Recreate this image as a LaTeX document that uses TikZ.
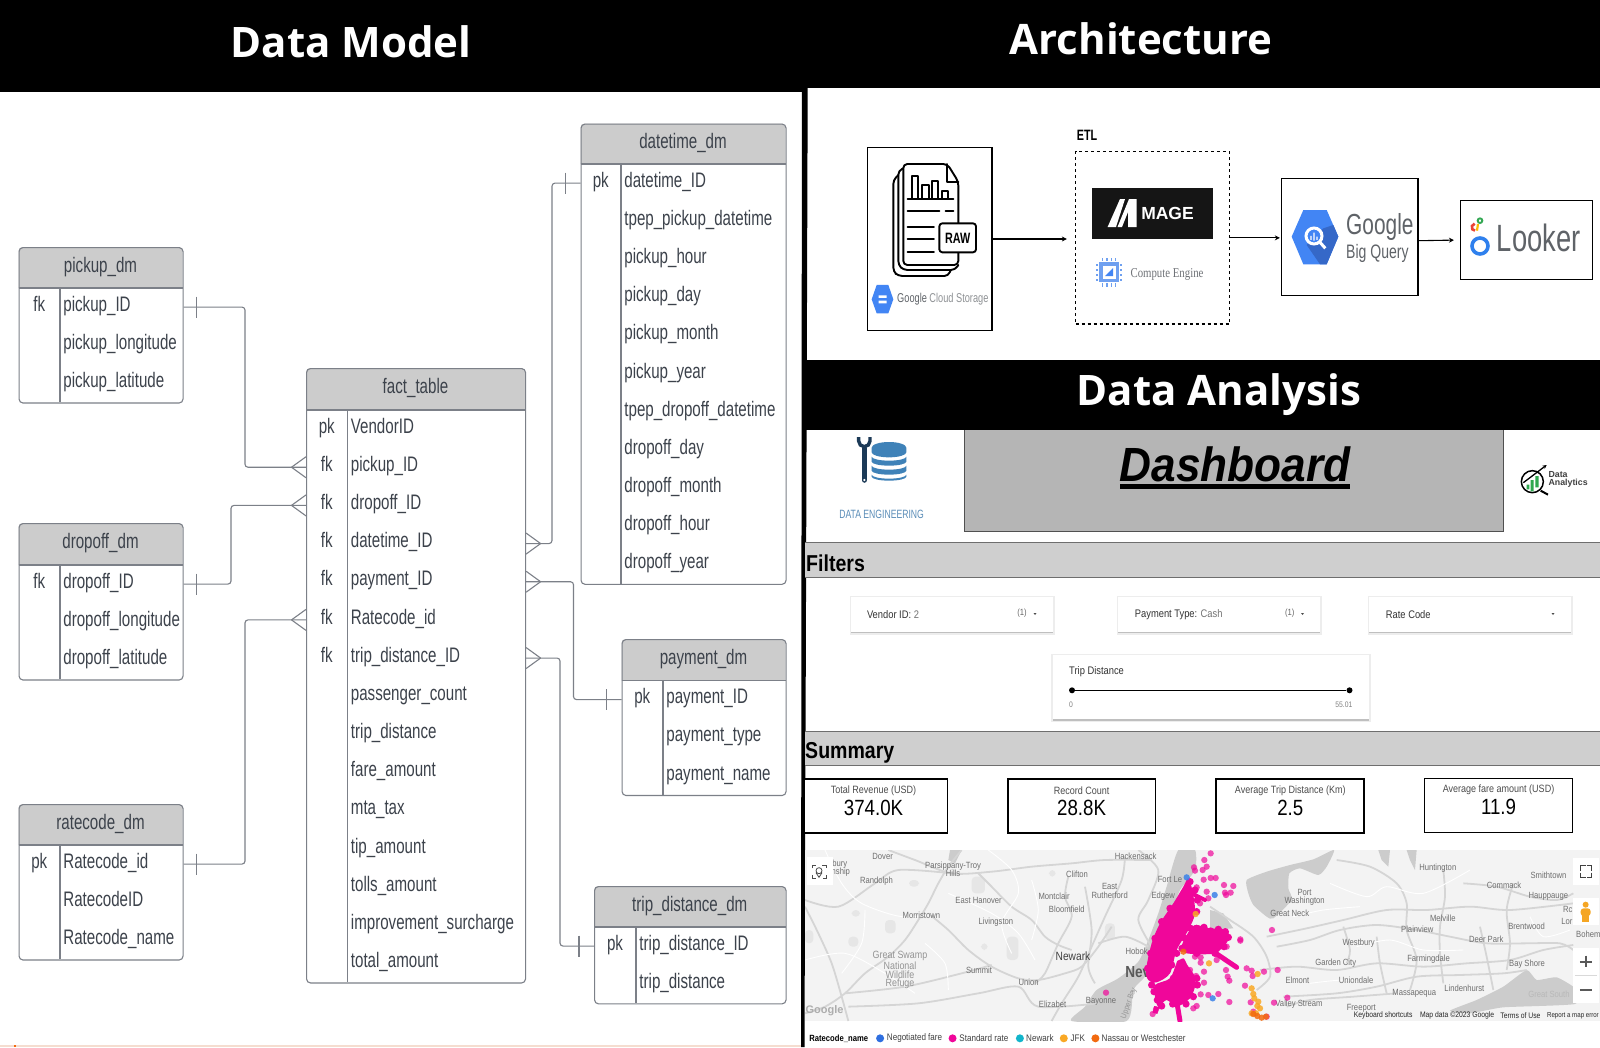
\documentclass[tikz,border=0pt]{standalone}
\usepackage{fontspec}
\usetikzlibrary{arrows.meta,calc}
\setmainfont{Liberation Sans}
\newfontfamily\nr[FakeStretch=0.72]{Liberation Sans}
\newfontfamily\nm[FakeStretch=0.85]{Liberation Sans}
\newfontfamily\dbf[FakeStretch=0.92]{Liberation Sans}
\newfontfamily\ttlf{Open Sans}
\newfontfamily\srf[FakeStretch=0.8]{Liberation Serif}
\definecolor{erline}{HTML}{7C8088}
\definecolor{ertext}{HTML}{3C424B}
\definecolor{erhead}{HTML}{CCCCCC}
\definecolor{gblue}{HTML}{4285F4}
\definecolor{gdark}{HTML}{3568C8}
\definecolor{ggray}{HTML}{5F6368}
\definecolor{band}{HTML}{CFCFCF}
\definecolor{bandline}{HTML}{6E6E6E}
\definecolor{mapbg}{HTML}{F3F3F3}
\definecolor{mappark}{HTML}{E6E6E6}
\definecolor{mapwater}{HTML}{CCCCCC}
\definecolor{maproad}{HTML}{D5D5D5}
\definecolor{maptext}{HTML}{6E6E6E}
\definecolor{mag}{HTML}{F0069A}
\definecolor{dotorange}{HTML}{F9A825}
\definecolor{dotdeep}{HTML}{F26A10}
\definecolor{dotblue}{HTML}{3B82E8}
\definecolor{strip}{HTML}{F5DDD0}
\definecolor{mageblack}{HTML}{151515}
\definecolor{chipblue}{HTML}{6FA0F0}
\definecolor{lookblue}{HTML}{2F80ED}
\definecolor{lookgreen}{HTML}{34A853}
\definecolor{lookred}{HTML}{EA4335}
\definecolor{lookyellow}{HTML}{FBBC04}
\definecolor{dashgray}{HTML}{B5B5B5}
\definecolor{dashline}{HTML}{505050}
\definecolor{dbblue}{HTML}{3F82B8}
\definecolor{wrench}{HTML}{1C3A57}
\definecolor{barsgreen}{HTML}{2FA84F}
\definecolor{pegman}{HTML}{F5A623}
\definecolor{legblue}{HTML}{2F6FE0}
\definecolor{legteal}{HTML}{12B5CB}
\definecolor{detext}{HTML}{5B8DB8}
\newcounter{mlc}
\newcommand{\maplab}[3]{\stepcounter{mlc}\node[maplabel] (ml\arabic{mlc}) at (#1,#2) {#3};}
% name, title, x1, x2, xdiv, ytop, yhead, rows, rowcount
\newcommand{\ertab}[9]{%
  \pgfmathsetmacro{\tw}{#4-#3}%
  \pgfmathsetmacro{\th}{#7-#6+38.16*#9}%
  \pgfmathsetmacro{\tb}{#6+\th}%
  \fill[erhead] (#3,#7) [rounded corners=4pt] -- (#3,#6) -- (#4,#6) [sharp corners] -- (#4,#7) -- cycle;
  \node[tabbox,minimum width=\tw pt,minimum height=\th pt,anchor=north west] (#1) at (#3,#6) {};
  \draw[erl] (#3,#7) -- (#4,#7);
  \draw[erl] (#5,#7) -- (#5,\tb);
  \pgfmathsetmacro{\tc}{(#3+#4)/2}%
  \pgfmathsetmacro{\hc}{(#6+#7)/2-0.6}%
  \node[ertxt] (#1-title) at (\tc,\hc) {#2};
  \pgfmathsetmacro{\kc}{(#3+#5)/2}%
  \pgfmathsetmacro{\rx}{#5+3.2}%
  \foreach \rowkey/\rowtxt [count=\i] in {#8} {%
    \pgfmathsetmacro{\ry}{#7+(\i-0.5)*38.16}%
    \pgfmathsetmacro{\ty}{\ry-2.8}%
    \coordinate (#1-\i) at (#5,\ry);
    \node[ertxt,anchor=base] (#1-k\i) at ($(\kc,\ty)+(0,7)$) {\rowkey};
    \node[ertxt,anchor=base west] (#1-t\i) at ($(\rx,\ty)+(0,7)$) {\rowtxt};
  }%
}
\newcommand{\crowleft}[1]{\draw[erl] ($(#1)+(-14.5,0)$) -- ($(#1)+(0,-10.5)$) ($(#1)+(-14.5,0)$) -- ($(#1)+(0,10.5)$);}
\newcommand{\crowright}[1]{\draw[erl] ($(#1)+(14.5,0)$) -- ($(#1)+(0,-10.5)$) ($(#1)+(14.5,0)$) -- ($(#1)+(0,10.5)$);}
\newcommand{\ticklr}[1]{\draw[erl] ($(#1)+(0,-10.5)$) -- ($(#1)+(0,10.5)$);}
\tikzset{
  erl/.style={draw=erline,line width=1.1pt},
  tabbox/.style={draw=erline,line width=1.1pt,rounded corners=4pt,inner sep=0pt},
  ertxt/.style={text=ertext,font=\nr\fontsize{21}{21}\selectfont,inner sep=0pt},
  conn/.style={draw=erline,line width=1.1pt,rounded corners=3pt},
  archbox/.style={draw=black,line width=1.5pt,inner sep=0pt},
  flow/.style={draw=black,line width=1.1pt,-{Stealth[length=5pt,width=5pt]}},
  title/.style={text=white,font=\ttlf\bfseries\fontsize{42}{42}\selectfont,inner sep=0pt},
  cardtxt/.style={font=\nm\fontsize{11}{11}\selectfont,text=black!80,inner sep=0pt},
  kpibox/.style={draw=black,line width=1.4pt,fill=white,inner sep=0pt},
  kpilab/.style={font=\nm\fontsize{10.6}{10.6}\selectfont,text=black!70,inner sep=0pt},
  kpival/.style={font=\nm\fontsize{22}{22}\selectfont,text=black,inner sep=0pt},
  maplabel/.style={font=\nm\fontsize{9}{9}\selectfont,text=maptext,inner sep=0pt},
  legtxt/.style={font=\nm\fontsize{9.5}{9.5}\selectfont,text=black!75,inner sep=0pt,anchor=west},
  lbl/.style={inner sep=0pt},
}
\begin{document}
\begin{tikzpicture}[x=1pt,y=-1pt]
\useasboundingbox (0,0) rectangle (1600,1047);
\fill[white] (0,0) rectangle (1600,1047);
\fill[black] (0,0) rectangle (803,92);
\fill[black] (803,0) rectangle (1600,88);
\fill[black] (802,0) -- (808,0) -- (804.5,1047) -- (801,1047) -- cycle;
\fill[black] (805,360) rectangle (1600,430);
\fill[strip] (0,1045) rectangle (801,1047);
\fill[dotdeep] (14,1045) rectangle (16,1047);
\node[title] (t1) at (351,42) {Data Model};
\node[title] (t2) at (1141,39) {Architecture};
\node[title] (t3) at (1219,395) {Data Analysis};

% ---------- ER tables
\ertab{pickup}{pickup\_dm}{18.5}{182.5}{60}{247}{288}{fk/pickup\_ID,{}/pickup\_longitude,{}/pickup\_latitude}{3}
\ertab{dropoff}{dropoff\_dm}{18.5}{182.5}{60}{523}{565}{fk/dropoff\_ID,{}/dropoff\_longitude,{}/dropoff\_latitude}{3}
\ertab{ratecode}{ratecode\_dm}{18.5}{182.5}{60}{804}{845}{pk/Ratecode\_id,{}/RatecodeID,{}/Ratecode\_name}{3}
\ertab{fact}{fact\_table}{306}{525}{347.5}{368}{410}{pk/VendorID,fk/pickup\_ID,fk/dropoff\_ID,fk/datetime\_ID,fk/payment\_ID,fk/Ratecode\_id,fk/trip\_distance\_ID,{}/passenger\_count,{}/trip\_distance,{}/fare\_amount,{}/mta\_tax,{}/tip\_amount,{}/tolls\_amount,{}/improvement\_surcharge,{}/total\_amount}{15}
\ertab{datetime}{datetime\_dm}{580.5}{785.5}{621}{123.5}{164}{pk/datetime\_ID,{}/tpep\_pickup\_datetime,{}/pickup\_hour,{}/pickup\_day,{}/pickup\_month,{}/pickup\_year,{}/tpep\_dropoff\_datetime,{}/dropoff\_day,{}/dropoff\_month,{}/dropoff\_hour,{}/dropoff\_year}{11}
\ertab{payment}{payment\_dm}{621.5}{785.5}{663}{639}{680.5}{pk/payment\_ID,{}/payment\_type,{}/payment\_name}{3}
\ertab{tripd}{trip\_distance\_dm}{594}{785.5}{636}{886}{927}{pk/trip\_distance\_ID,{}/trip\_distance}{2}

% ---------- ER connectors
\coordinate (j1) at (245,0); \coordinate (j2) at (231,0); \coordinate (j3) at (245,0);
\coordinate (j4) at (552,0); \coordinate (j5) at (573.5,0); \coordinate (j6) at (560,0);
\draw[conn] (pickup.east |- pickup-1) -- (j1 |- pickup-1) -- (j1 |- fact-2) -- (fact.west |- fact-2);
\draw[conn] (dropoff.east |- dropoff-1) -- (j2 |- dropoff-1) -- (j2 |- fact-3) -- (fact.west |- fact-3);
\draw[conn] (ratecode.east |- ratecode-1) -- (j3 |- ratecode-1) -- (j3 |- fact-6) -- (fact.west |- fact-6);
\draw[conn] (fact.east |- fact-4) -- (j4 |- fact-4) -- (j4 |- datetime-1) -- (datetime.west |- datetime-1);
\draw[conn] (fact.east |- fact-5) -- (j5 |- fact-5) -- (j5 |- payment-1) -- (payment.west |- payment-1);
\draw[conn] (fact.east |- fact-7) -- (j6 |- fact-7) -- (j6 |- tripd-1) -- (tripd.west |- tripd-1);
\crowleft{fact.west |- fact-2}\crowleft{fact.west |- fact-3}\crowleft{fact.west |- fact-6}
\crowright{fact.east |- fact-4}\crowright{fact.east |- fact-5}\crowright{fact.east |- fact-7}
\ticklr{$(pickup.east |- pickup-1)+(13,0)$}
\ticklr{$(dropoff.east |- dropoff-1)+(13,0)$}
\ticklr{$(ratecode.east |- ratecode-1)+(13,0)$}
\ticklr{$(datetime.west |- datetime-1)+(-15,0)$}
\ticklr{$(payment.west |- payment-1)+(-15,0)$}
\ticklr{$(tripd.west |- tripd-1)+(-15,0)$}

% ---------- Architecture
\node[archbox,minimum width=124.5pt,minimum height=182.6pt] (gcs) at (929.5,239) {};
\node[draw=black,line width=1.3pt,dashed,inner sep=0pt,minimum width=154pt,minimum height=172.3pt] (etl) at (1152.5,237.9) {};
\node[archbox,minimum width=136.3pt,minimum height=117pt] (bq) at (1349.7,237.2) {};
\node[archbox,minimum width=131.6pt,minimum height=78.6pt] (looker) at (1526.5,240) {};
\node[lbl,font=\nr\bfseries\fontsize{15}{15}\selectfont] (etllab) at (1087,135) {ETL};
\draw[flow,shorten >=8pt] (gcs.east) -- (etl.west |- gcs.east);
\draw[flow,shorten >=1pt] (etl.east) -- (bq.west |- etl.east);
\draw[flow,shorten >=6pt] ($(bq.east)+(0,3.5)$) -- (looker.west);

% document icon
\begin{scope}[shift={(860,150)},x=0.3333pt,y=-0.3333pt,line width=1.9pt,line join=round,line cap=round]
\draw[rounded corners=4pt] (130,55) -- (115,62) -- (115,345) -- (130,360) -- (285,360) -- (295,345);
\draw[rounded corners=4pt] (115,75) -- (100,90) -- (100,365) -- (115,378) -- (265,378) -- (272,360);
\draw[fill=white,rounded corners=4pt] (130,42) -- (262,42) -- (295,95) -- (295,345) -- (130,345) -- cycle;
\draw (262,42) -- (262,95) -- (295,95);
\draw (155,147) -- (155,78) -- (175,78) -- (175,147);
\draw (185,147) -- (185,105) -- (207,105) -- (207,147);
\draw (215,147) -- (215,92) -- (235,92) -- (235,147);
\draw (247,147) -- (247,122) -- (265,122) -- (265,147);
\draw (143,147) -- (280,147);
\draw (143,183) -- (238,183) (257,183) -- (280,183);
\draw (143,230) -- (222,230) (143,268) -- (222,268) (143,305) -- (222,305);
\draw[fill=white,rounded corners=3pt] (238,220) rectangle (348,307);
\node[lbl,font=\nr\bfseries\fontsize{15}{15}\selectfont] (raw) at (293,264) {RAW};
\fill[gblue] (35,448) -- (50,405) -- (85,405) -- (100,448) -- (85,490) -- (50,490) -- cycle;
\fill[white] (56,436) rectangle (80,444) (56,452) rectangle (80,460);
\end{scope}
\node[lbl,anchor=west,font=\nr\fontsize{12.8}{12.8}\selectfont,text=ggray] (gcstxt) at (897,299.5) {Google \textcolor{ggray!70}{Cloud Storage}};

% MAGE
\fill[mageblack] (1091.8,188) rectangle (1212.8,239.3);
\fill[white] (1107.6,227) -- (1120,199) -- (1125,199) -- (1116,227) -- cycle;
\fill[white] (1117.5,227) -- (1129,199) -- (1136.7,199) -- (1136.7,227) -- (1128,227) -- (1128,212) -- (1122,227) -- cycle;
\node[lbl,text=white,font=\bfseries\fontsize{17.5}{17.5}\selectfont] (mage) at (1167.5,213.5) {MAGE};
% compute engine icon
\fill[chipblue] (1099,262) rectangle (1119,282);
\fill[white] (1102.5,265.5) rectangle (1115.5,278.5);
\fill[gblue] (1105,276) -- (1113,268) -- (1113,276) -- cycle;
\foreach \q in {1102.5,1107,1111.5,1115.5}{
  \draw[chipblue,line width=1.3pt] (\q,258) -- (\q,261) (\q,283) -- (\q,286.5);}
\foreach \q in {265,270,275,280}{
  \draw[chipblue,line width=1.3pt] (1098,\q) -- (1096,\q) (1120,\q) -- (1122,\q);}
\node[lbl,font=\srf\fontsize{13.5}{13.5}\selectfont,text=ggray!90] (cetxt) at (1167,274) {Compute Engine};

% BigQuery and Looker logos
\begin{scope}[shift={(1270,170)},x=0.3333pt,y=-0.3333pt]
\fill[gblue] (65,200) -- (100,120) -- (170,120) -- (205,200) -- (170,283) -- (100,283) -- cycle;
\fill[gdark] (160,175) -- (190,165) -- (205,200) -- (170,283) -- (150,283) -- (110,225) -- cycle;
\draw[white,line width=3pt,fill=gblue] (132,198) circle (24);
\draw[white,line width=3pt] (150,217) -- (166,235);
\fill[white] (121,198) rectangle (125,210) (130,188) rectangle (134,212) (139,200) rectangle (143,210);
\node[lbl,anchor=west,text=ggray,font=\nr\fontsize{29}{29}\selectfont] (goog) at (228,172) {Google};
\node[lbl,anchor=west,text=ggray,font=\nr\fontsize{19.5}{19.5}\selectfont] (bqtxt) at (228,250) {Big Query};
\draw[lookblue,line width=3.6pt] (630,228) circle (24);
\draw[lookgreen,line width=1.9pt] (630,152) circle (7);
\draw[lookred,line width=2.6pt] (615,182) -- (607,178) -- (606,168) -- (614,161);
\draw[lookyellow,line width=2.2pt] (624,162) -- (621,182);
\node[lbl,anchor=west,text=ggray,font=\nr\fontsize{38}{38}\selectfont] (lk) at (680,203) {Looker};
\end{scope}

% ---------- dashboard head
\fill[dashgray] (964.8,430) rectangle (1503,531.7);
\draw[dashline,line width=1pt] (964.8,430) -- (964.8,531.7) -- (1503,531.7) -- (1503,430);
\node[lbl,anchor=base,font=\dbf\bfseries\itshape\fontsize{48}{48}\selectfont] (dash) at (1235,481) {Dashboard};
\fill[black] (1120,484) rectangle (1350,489);
% data engineering logo
\begin{scope}[shift={(830,425)},x=0.3333pt,y=-0.3333pt]
\fill[dbblue] (125,68) -- (125,82) arc (180:0:52 and 15) -- (229,68) arc (0:-180:52 and 17) -- cycle;
\fill[dbblue] (125,95) -- (125,110) arc (180:0:52 and 12) -- (229,95) arc (0:180:52 and 12) -- cycle;
\fill[dbblue] (125,122) -- (125,137) arc (180:0:52 and 12) -- (229,122) arc (0:180:52 and 12) -- cycle;
\fill[dbblue] (125,149) -- (125,155) arc (180:0:52 and 12) -- (229,149) arc (0:180:52 and 12) -- cycle;
\foreach \yy in {101,128,156}{\foreach \xx in {155,167,179}{\fill[white] (\xx,\yy) circle (3);}}
\draw[wrench,line width=5.5pt,line cap=round] (103,70) -- (103,165);
\draw[wrench,line width=3.4pt] (86,36) -- (86,48) arc (180:0:17) -- (120,36);
\fill[white] (103,165) circle (3.5);
\end{scope}
\node[lbl,font=\nr\fontsize{12}{12}\selectfont,text=detext] (de) at (881.6,514) {DATA ENGINEERING};
% analytics logo
\begin{scope}[shift={(1500,450)},x=0.3333pt,y=-0.3333pt]
\draw[black,line width=1.5pt] (97,95) circle (33);
\fill[barsgreen] (80,104) rectangle (88,118) (92,90) rectangle (101,124) (106,78) rectangle (116,112);
\draw[black,line width=1.3pt,-{Stealth[length=4pt,width=4pt]}] (70,98) -- (140,45);
\draw[black,line width=2pt] (122,122) -- (144,134);
\node[lbl,anchor=west,font=\bfseries\fontsize{8.8}{8.8}\selectfont,text=black!75] (da1) at (145,73) {Data};
\node[lbl,anchor=west,font=\bfseries\fontsize{8.8}{8.8}\selectfont,text=black!75] (da2) at (145,100) {Analytics};
\end{scope}

% ---------- bands
\fill[band] (805,542.7) rectangle (1600,577.3);
\draw[bandline,line width=0.9pt] (805,542.7) -- (1600,542.7) (805,577.3) -- (1600,577.3);
\node[lbl,anchor=west,font=\nm\bfseries\fontsize{23}{23}\selectfont] (filt) at (806,563) {Filters};
\fill[band] (805,731) rectangle (1600,765);
\draw[bandline,line width=0.9pt] (805,731) -- (1600,731) (805,765) -- (1600,765);
\node[lbl,anchor=west,font=\nm\bfseries\fontsize{23}{23}\selectfont] (summ) at (805,752.5) {Summary};

% filter cards
\foreach \ax/\bx/\ay/\by in {851/1053/596.7/631.7,1118.4/1320.4/596.7/631.7,1369.4/1571/596.7/631.7,1052.5/1369.4/655/719}{
  \fill[black!7] (\ax-1.5,\ay-1) rectangle (\bx+1.5,\by+3);
  \fill[black!25] (\ax,\by) rectangle (\bx,\by+1.6);
  \fill[white] (\ax,\ay) rectangle (\bx,\by);
}
\node[cardtxt,anchor=west] (f1) at (866.8,614.3) {Vendor ID: \textcolor{black!55}{2}};
\node[cardtxt,anchor=center,font=\nm\fontsize{9}{9}\selectfont,text=black!60] (f1a) at (1022,613.5) {(1)};
\fill[black!70] (1033.5,613) -- (1036.5,613) -- (1035,615) -- cycle;
\node[cardtxt,anchor=west] (f2) at (1134.7,614.3) {Payment Type: \textcolor{black!55}{Cash}};
\node[cardtxt,anchor=center,font=\nm\fontsize{9}{9}\selectfont,text=black!60] (f2a) at (1289.8,613.5) {(1)};
\fill[black!70] (1301,613) -- (1304,613) -- (1302.5,615) -- cycle;
\node[cardtxt,anchor=west] (f3) at (1385.7,614.3) {Rate Code};
\fill[black!70] (1551.5,613) -- (1554.5,613) -- (1553,615) -- cycle;
\node[cardtxt,anchor=west] (f4) at (1069,671.7) {Trip Distance};
\node[lbl,circle,fill=black,minimum size=6pt] (s1) at (1072,690.3) {};
\node[lbl,circle,fill=black,minimum size=6pt] (s2) at (1349.5,690.3) {};
\draw[black,line width=1.4pt] (s1) -- (s2);
\node[cardtxt,font=\nm\fontsize{8}{8}\selectfont,text=black!50] (s1t) at (1071,704.7) {0};
\node[cardtxt,anchor=east,font=\nm\fontsize{8}{8}\selectfont,text=black!50] (s2t) at (1352.5,704.7) {55.01};

% KPI cards
\node[kpibox,minimum width=145pt,minimum height=54pt] (k1) at (875,806) {};
\node[kpibox,minimum width=147.6pt,minimum height=54pt] (k2) at (1081.8,806) {};
\node[kpibox,minimum width=147.8pt,minimum height=54pt] (k3) at (1290,806) {};
\node[kpibox,minimum width=147.9pt,minimum height=54pt] (k4) at (1498.5,805.3) {};
\fill[black] (802,776) rectangle (805,836);
\node[kpilab] (k1l) at (873.5,790.7) {Total Revenue (USD)};
\node[kpival] (k1v) at (873.5,807.5) {374.0K};
\node[kpilab] (k2l) at (1081.6,790.7) {Record Count};
\node[kpival] (k2v) at (1081.6,807.5) {28.8K};
\node[kpilab] (k3l) at (1290.3,790.7) {Average Trip Distance (Km)};
\node[kpival] (k3v) at (1290.3,807.5) {2.5};
\node[kpilab] (k4l) at (1498.5,790) {Average fare amount (USD)};
\node[kpival] (k4v) at (1498.5,807) {11.9};

% ---------- map
\begin{scope}
\clip (805,850) rectangle (1600,1021);
\fill[mapbg] (805,850) rectangle (1600,1021);
% western half
\begin{scope}[shift={(805,850)},x=0.3333pt,y=-0.3333pt]
\foreach \pa/\pb/\pc/\pd in {500/80/540/130,605/260/640/330,240/210/272/250,312/90/342/110,130/260/160/290,140/180/165/200,732/60/752/80,528/280/548/300,0/240/25/280,900/220/930/270}
  {\fill[mappark,rounded corners=4pt] (\pa,\pb) rectangle (\pc,\pd);}
\fill[mapwater] plot[smooth cycle,tension=0.4] coordinates {(1120,0) (1170,0) (1170,60) (1125,120) (1100,190) (1065,250) (1050,320) (1020,380) (985,420) (965,513) (800,513) (840,470) (875,420) (940,385) (1000,335) (1030,270) (1060,190) (1085,110)};
\fill[mapwater] (435,0) -- (470,0) -- (450,40) -- (430,30) -- cycle;
\foreach \rd in {
 {(0,170) (40,250) (80,340) (110,440) (130,513)},
 {(470,0) (430,50) (400,100) (370,160) (340,210) (300,270) (250,320) (180,370) (120,430) (60,470) (0,490)},
 {(520,70) (560,110) (620,170) (680,210) (720,260) (760,285) (800,300)},
 {(370,190) (430,240) (490,300) (560,350) (640,385) (700,390) (780,370) (830,350) (880,290) (920,230)},
 {(250,0) (330,30) (440,70) (560,65) (680,50) (800,40) (900,30) (1040,30)},
 {(120,430) (300,410) (470,370) (560,345)},
 {(130,470) (340,460) (520,430) (640,410) (700,470) (880,460)},
 {(790,80) (780,140) (800,200) (760,280) (720,370) (690,400)},
 {(960,20) (950,90) (900,200) (860,290) (820,380) (770,460) (740,513)},
 {(840,110) (860,240) (850,350) (870,400)},
 {(1000,0) (1060,60) (1030,150) (1000,210) (1040,290)},
 {(0,150) (100,170) (210,100) (280,60) (440,70)},
 {(880,280) (960,260) (1030,290)}}
 {\draw[maproad,line width=1.8pt] plot[smooth] coordinates \rd;}
\foreach \rd in {
 {(60,0) (110,100) (170,160) (290,200) (400,190)},
 {(550,0) (620,60) (640,130) (590,220) (620,310)},
 {(180,180) (170,280) (110,370)},
 {(430,130) (560,190) (640,250) (690,330)},
 {(0,330) (120,310) (240,370) (330,430)},
 {(360,280) (420,340) (430,420)},
 {(680,90) (700,180) (680,270)}}
 {\draw[white,line width=0.9pt] plot[smooth] coordinates \rd;}
\end{scope}
% eastern half
\begin{scope}[shift={(1210,850)},x=0.3333pt,y=-0.3333pt]
\fill[mapwater] plot[smooth cycle,tension=0.35] coordinates {(110,90) (170,65) (240,45) (310,28) (372,0) (350,50) (325,75) (270,55) (238,70) (235,115) (245,150) (190,205) (170,200) (130,165) (115,130)};
\fill[mapwater] (0,180) -- (40,190) -- (70,235) -- (0,240) -- cycle;
\fill[mapwater] (505,0) -- (540,0) -- (535,50) -- (515,30) -- cycle;
\fill[mapwater] (590,0) -- (620,0) -- (615,60) -- (600,30) -- cycle;
\fill[mapwater] plot[smooth cycle,tension=0.3] coordinates {(720,482) (800,450) (880,410) (950,360) (980,390) (1040,382) (1095,415) (1095,462) (880,472) (780,490)};
\foreach \rd in {
 {(170,260) (290,235) (400,210) (530,180) (650,180) (780,170) (900,180) (1090,160)},
 {(200,290) (300,270) (390,240) (500,225) (620,240) (720,260) (830,280) (950,280) (1050,280) (1090,300)},
 {(150,360) (260,350) (380,360) (500,340) (640,350) (770,340) (900,330) (1000,300) (1090,285)},
 {(220,440) (380,430) (500,410) (620,380) (750,375) (880,370) (950,360)},
 {(230,470) (300,450) (430,440) (560,430)},
 {(380,30) (480,50) (560,100) (590,160) (590,240) (620,330) (600,420)},
 {(700,60) (705,140) (690,230) (690,310) (700,400)},
 {(0,170) (60,210) (130,260) (170,320) (180,380) (140,420)},
 {(810,230) (830,320) (850,420)},
 {(910,100) (890,180) (900,280) (890,360)},
 {(760,100) (860,110) (960,140) (1040,150) (1090,130)},
 {(500,260) (510,340) (530,430)},
 {(400,230) (420,300) (410,340)}}
 {\draw[maproad,line width=1.8pt] plot[smooth] coordinates \rd;}
\foreach \rd in {
 {(360,100) (470,140) (530,110) (640,130) (780,60)},
 {(250,200) (340,180) (450,170)},
 {(440,290) (540,270) (640,300) (760,300)},
 {(300,400) (400,390) (480,400)},
 {(960,200) (1000,260) (1080,240)}}
 {\draw[white,line width=0.9pt] plot[smooth] coordinates \rd;}
\end{scope}
\begin{scope}[shift={(800,840)},x=0.5102pt,y=-0.3333pt]
% labels
\maplab{162}{50}{Dover}\maplab{78}{72}{bury}\maplab{80}{95}{nship}
\maplab{300}{77}{Parsippany-Troy}\maplab{300}{100}{Hills}\maplab{150}{123}{Randolph}
\maplab{658}{48}{Hackensack}\maplab{543}{102}{Clifton}\maplab{607}{140}{East}\maplab{607}{165}{Rutherford}
\maplab{725}{118}{Fort Le}\maplab{498}{168}{Montclair}\maplab{712}{167}{Edgew}\maplab{350}{180}{East Hanover}
\maplab{523}{207}{Bloomfield}\maplab{989}{157}{Port}\maplab{989}{183}{Washington}\maplab{960}{220}{Great Neck}
\maplab{238}{227}{Morristown}\maplab{384}{247}{Livingston}\maplab{1250}{85}{Huntington}\maplab{1380}{135}{Commack}
\maplab{1467}{107}{Smithtown}\maplab{1467}{170}{Hauppauge}\maplab{1260}{234}{Melville}\maplab{1210}{268}{Plainview}
\maplab{1424}{258}{Brentwood}\maplab{1345}{297}{Deer Park}\maplab{1095}{311}{Westbury}\maplab{1232}{357}{Farmingdale}
\maplab{1050}{370}{Garden City}\maplab{1425}{372}{Bay Shore}\maplab{351}{392}{Summit}\maplab{660}{333}{Hobok}
\maplab{448}{426}{Union}\maplab{975}{420}{Elmont}\maplab{1090}{420}{Uniondale}\maplab{1302}{445}{Lindenhurst}
\maplab{1204}{459}{Massapequa}\maplab{495}{492}{Elizabet}\maplab{590}{483}{Bayonne}\maplab{978}{493}{Valley Stream}
\maplab{1100}{506}{Freeport}\maplab{1505}{208}{Rc}\maplab{1503}{243}{Lor}\maplab{1545}{283}{Bohem}
\node[maplabel,font=\nm\fontsize{10.5}{10.5}\selectfont,text=black!42] (gs1) at (196,347) {Great Swamp};
\node[maplabel,font=\nm\fontsize{10.5}{10.5}\selectfont,text=black!42] (gs2) at (196,376) {National};
\node[maplabel,font=\nm\fontsize{10.5}{10.5}\selectfont,text=black!42] (gs3) at (196,404) {Wildlife};
\node[maplabel,font=\nm\fontsize{10.5}{10.5}\selectfont,text=black!42] (gs4) at (196,432) {Refuge};
\node[maplabel,font=\nm\fontsize{12}{12}\selectfont,text=black!75] (nwk) at (535,350) {Newark};
\node[maplabel,font=\nm\bfseries\fontsize{16}{16}\selectfont,text=black!65] (nyc) at (662,397) {Nev};
\node[maplabel,text=black!28] (gsb) at (1468,462) {Great South};
\node[maplabel,text=black!42,rotate=70,font=\nm\fontsize{8}{8}\selectfont] (ub) at (645,490) {Upper Bay};
\node[maplabel,font=\bfseries\fontsize{11}{11}\selectfont,text=black!32] (gl) at (48,513) {Google};
\end{scope}
% blobs and dots
\begin{scope}[shift={(1080,850)},x=0.3333pt,y=-0.3333pt]
\fill[mag] plot[smooth cycle] coordinates {(325,85) (338,125) (345,190) (325,240) (290,300) (270,370) (230,397) (205,390) (198,360) (215,280) (240,220) (280,160) (310,110)};
\fill[mag] plot[smooth cycle] coordinates {(345,225) (385,235) (440,240) (445,270) (420,300) (400,312) (320,310) (305,290) (320,255)};
\fill[mag] plot[smooth cycle] coordinates {(310,325) (322,345) (345,380) (345,410) (330,445) (290,470) (260,450) (235,470) (225,440) (225,405) (270,385) (290,340)};
\draw[mag,line width=5pt,line cap=round] (292,465) -- (300,513);
\draw[mag,line width=5pt,line cap=round] (400,305) -- (470,352);
\draw[mag,line width=4pt,line cap=round] (335,130) -- (375,150);
\draw[mag,line width=5pt] (230,470) -- (225,490);
\foreach \px/\py in {330/95,345/120,352/150,350/185,332/235,300/150,270/175,245/215,225/265,212/310,203/355,350/235,372/232,392/243,415/238,436/245,445/262,432/290,405/310,315/265,306/295,350/310,350/385,352/405,340/440,318/462,278/462,245/468,232/450,280/385,300/400,290/310,275/345,300/340,215/405,222/425,262/430,375/265,360/290}
  {\fill[mag] (\px,\py) circle (11);}
\foreach \px/\py in {392/10,373/30,380/50,342/52,345/62,368/60,392/84,407/84,371/89,432/105,460/108,435/128,452/128,438/135,380/125,385/145,360/160,350/112,340/130,576/240,481/268,481/272,440/290,345/320,362/322,362/338,372/365,410/330,438/360,443/380,448/392,372/398,500/355,515/362,518/378,552/365,593/360,495/407,622/443,582/458,448/456,415/432,385/435,362/433,350/468,340/475,78/428,228/478,218/492,330/360,348/378,352/385,512/457,520/485,560/500}
  {\fill[mag,opacity=0.7] (\px,\py) circle (9.5);}
\foreach \px/\py in {404/135,320/82,398/445}{\fill[dotblue,opacity=0.85] (\px,\py) circle (9.5);}
\foreach \px/\py in {347/192,387/340,533/372,515/415,520/432,523/445,535/455,532/468,540/475,515/490,528/490}{\fill[dotorange,opacity=0.85] (\px,\py) circle (9.5);}
\foreach \px/\py in {310/305,520/492,532/498,545/503,558/500}{\fill[dotdeep,opacity=0.85] (\px,\py) circle (9.5);}
\end{scope}
\begin{scope}[shift={(805,850)},x=0.3333pt,y=-0.3333pt]
\fill[white] (5,20) rectangle (85,105);
\draw[black!70,line width=0.8pt] (42,62) circle (9) (33,68) -- (42,82) -- (51,68);
\draw[black!70,line width=0.8pt] (22,55) -- (22,45) -- (32,45) (52,45) -- (63,45) -- (63,55) (63,75) -- (63,85) -- (53,85) (32,85) -- (22,85) -- (22,75);
\end{scope}
\begin{scope}[shift={(1210,850)},x=0.3333pt,y=-0.3333pt]
\fill[white] (1088,25) rectangle (1168,105);
\draw[black!75,line width=1.1pt] (1112,62) -- (1112,47) -- (1127,47) (1130,47) -- (1145,47) -- (1145,62) (1145,68) -- (1145,83) -- (1130,83) (1127,83) -- (1112,83) -- (1112,68);
\fill[white] (1088,145) rectangle (1168,225);
\fill[pegman] (1127,164) circle (9);
\fill[pegman,rounded corners=3pt] (1112,175) rectangle (1142,198);
\fill[pegman] (1116,190) rectangle (1138,216);
\fill[white] (1088,295) rectangle (1168,460);
\draw[black!15,line width=0.5pt] (1095,377) -- (1160,377);
\draw[black!65,line width=1.8pt] (1110,335) -- (1145,335) (1127,317) -- (1127,352) (1110,420) -- (1145,420);
\end{scope}
\begin{scope}[shift={(800,840)},x=0.5102pt,y=-0.3333pt]
% footer
\node[maplabel,font=\nm\fontsize{8}{8}\selectfont,text=black!85] (mf1) at (1143,526) {Keyboard shortcuts};
\node[maplabel,font=\nm\fontsize{8}{8}\selectfont,text=black!85] (mf2) at (1288,526) {Map data ©2023 Google};
\node[maplabel,font=\nm\fontsize{8}{8}\selectfont,text=black!85] (mf3) at (1412,526) {Terms of Use};
\node[maplabel,font=\nm\fontsize{7.2}{7.2}\selectfont,text=black!85,anchor=east] (mf4) at (1566,526) {Report a map error};
\end{scope}
\end{scope}
% legend
\begin{scope}[shift={(800,840)},x=0.5102pt,y=-0.3333pt]
\node[legtxt,font=\nm\bfseries\fontsize{9}{9}\selectfont,text=black] (lg0) at (18,595) {Ratecode\_name};
\fill[legblue] (157,595) circle (4pt);
\node[legtxt] (lg1) at (170,595) {Negotiated fare};
\fill[mag] (299,595) circle (4pt);
\node[legtxt] (lg2) at (312,595) {Standard rate};
\fill[legteal] (431,595) circle (4pt);
\node[legtxt] (lg3) at (443,595) {Newark};
\fill[dotorange] (517,595) circle (4pt);
\node[legtxt] (lg4) at (530,595) {JFK};
\fill[dotdeep] (579,595) circle (4pt);
\node[legtxt] (lg5) at (591,595) {Nassau or Westchester};
\end{scope}
\end{tikzpicture}
\end{document}
